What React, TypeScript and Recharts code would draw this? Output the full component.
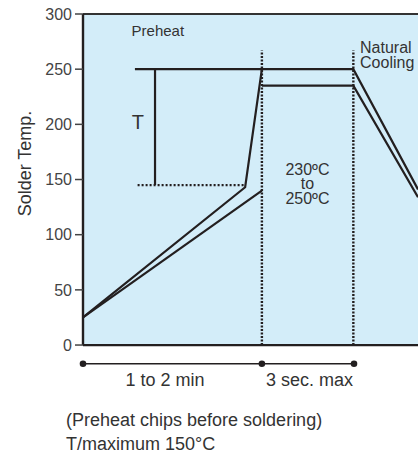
import { LineChart, Line, XAxis, YAxis, ReferenceArea, ReferenceLine, ReferenceDot } from "recharts"

const ink = "#231f20"
const textColor = "#333333"
const font = "'Liberation Sans', Arial, Helvetica, sans-serif"

// temperature ticks
const yTicks = [0, 50, 100, 150, 200, 250, 300]

// upper profile (250ºC peak)
const upperX = [0, 48.4, 53.4, 80.7, 100]
const upperY = [25, 143, 250, 250, 141]

// lower profile (235ºC peak), broken at the dotted boundary
const lowerRiseX = [0, 53.4]
const lowerRiseY = [25, 140]
const lowerPeakX = [53.4, 80.7, 100]
const lowerPeakY = [235, 235, 134]

// T marker (preheat difference)
const tBarX = [15.5, 53.4]
const tBarY = [250, 250]
const tStemX = [21.5, 21.5]
const tStemY = [250, 145]
const tBaseX = [16.3, 48.4]
const tBaseY = [145, 145]

// dotted phase boundaries
const phaseX = [53.4, 80.7]
const phaseTop = 267

// time span ruler under the axis
const timelineX = [0, 53.4, 80.9]
const timelineY = -17
const spanCenters = [24.5, 67.6]
const spanLabels = ["1 to 2 min", "3 sec. max"]

const zip = (xs: number[], ys: number[]) => xs.map((x, i) => ({ x, y: ys[i] }))

function note(lines: string[], size: number, anchor: "start" | "middle", step: number) {
  return (p: any) => (
    <text x={p.cx} y={p.cy} fontSize={size} textAnchor={anchor} fill={textColor} fontFamily={font}>
      {lines.map((l, i) => (
        <tspan key={i} x={p.cx} dy={i === 0 ? 0 : step}>
          {l}
        </tspan>
      ))}
    </text>
  )
}

function YLabel(props: any) {
  const vb = props.viewBox || { x: 0, y: 6, width: 75, height: 352 }
  const x = vb.x + 17
  const y = vb.y + vb.height / 2 - 26.5
  return (
    <text x={x} y={y} transform={`rotate(-90, ${x}, ${y})`} textAnchor="middle" dominantBaseline="central" fontSize={18} fill={textColor} fontFamily={font}>
      Solder Temp.
    </text>
  )
}

export default function App() {
  const solid = { stroke: ink, strokeWidth: 2.2, dot: false, isAnimationActive: false, type: "linear" as const }
  return (
    <div style={{ position: "relative", width: 418, height: 455, padding: "8px 0 0 8px", boxSizing: "border-box", overflow: "hidden" }}>
      <style>{"html{overflow:hidden}body{margin:0}.recharts-surface{overflow:visible}"}</style>
      <LineChart width={410} height={390} margin={{ top: 6, right: 0, bottom: 2, left: 0 }}>
        <ReferenceArea x1={0} x2={100} y1={0} y2={300} fill="#d3edf9" fillOpacity={1} stroke="none" />
        <XAxis
          dataKey="x"
          type="number"
          domain={[0, 100]}
          ticks={spanCenters}
          interval={0}
          tickFormatter={(v) => spanLabels[spanCenters.indexOf(v)] ?? ""}
          axisLine={false}
          tickLine={false}
          tickSize={0}
          tickMargin={7}
          height={30}
          tick={{ fontSize: 18, fill: textColor, fontFamily: font }}
        />
        <YAxis
          type="number"
          domain={[-19, 300]}
          ticks={yTicks}
          interval={0}
          width={75}
          axisLine={false}
          tickSize={8}
          tickMargin={3}
          tickLine={{ stroke: "#444", strokeWidth: 1.5 }}
          tick={{ fontSize: 16, fill: "#444", fontFamily: font }}
          label={{ content: (p: any) => <YLabel {...p} /> }}
        />
        <ReferenceLine y={300} stroke="#333" strokeWidth={2} />
        <ReferenceLine y={0} stroke={ink} strokeWidth={2.2} />
        <ReferenceLine segment={[{ x: 0, y: 0 }, { x: 0, y: 300 }]} stroke={ink} strokeWidth={2.4} />

        {phaseX.map((px) => (
          <Line
            key={px}
            data={zip([px, px], [0, phaseTop])}
            dataKey="y"
            stroke={ink}
            strokeWidth={2.4}
            strokeDasharray="2 1.5"
            dot={false}
            isAnimationActive={false}
          />
        ))}
        <Line data={zip(tBaseX, tBaseY)} dataKey="y" stroke={ink} strokeWidth={2.2} strokeDasharray="2 2" dot={false} isAnimationActive={false} />
        <Line data={zip(tBarX, tBarY)} dataKey="y" {...solid} />
        <Line data={zip(tStemX, tStemY)} dataKey="y" {...solid} />
        <Line data={zip(upperX, upperY)} dataKey="y" {...solid} />
        <Line data={zip(lowerRiseX, lowerRiseY)} dataKey="y" {...solid} />
        <Line data={zip(lowerPeakX, lowerPeakY)} dataKey="y" {...solid} />
        <Line
          data={timelineX.map((x) => ({ x, y: timelineY }))}
          dataKey="y"
          stroke={ink}
          strokeWidth={1.5}
          dot={{ r: 3.3, fill: ink, stroke: "none" }}
          isAnimationActive={false}
        />

        <ReferenceDot x={14.5} y={280} r={0} shape={note(["Preheat"], 15, "start", 0)} />
        <ReferenceDot x={16.4} y={196} r={0} shape={note(["T"], 20, "middle", 0)} />
        <ReferenceDot x={67} y={154} r={0} shape={note(["230ºC", "to", "250ºC"], 16, "middle", 14.3)} />
        <ReferenceDot x={82.7} y={265} r={0} shape={note(["Natural", "Cooling"], 16, "start", 15)} />
      </LineChart>
      <div style={{ position: "absolute", left: 66, top: 408, fontFamily: font, fontSize: 18, lineHeight: "24px", color: textColor, whiteSpace: "nowrap" }}>
        <div>(Preheat chips before soldering)</div>
        <div>T/maximum 150°C</div>
      </div>
    </div>
  )
}
